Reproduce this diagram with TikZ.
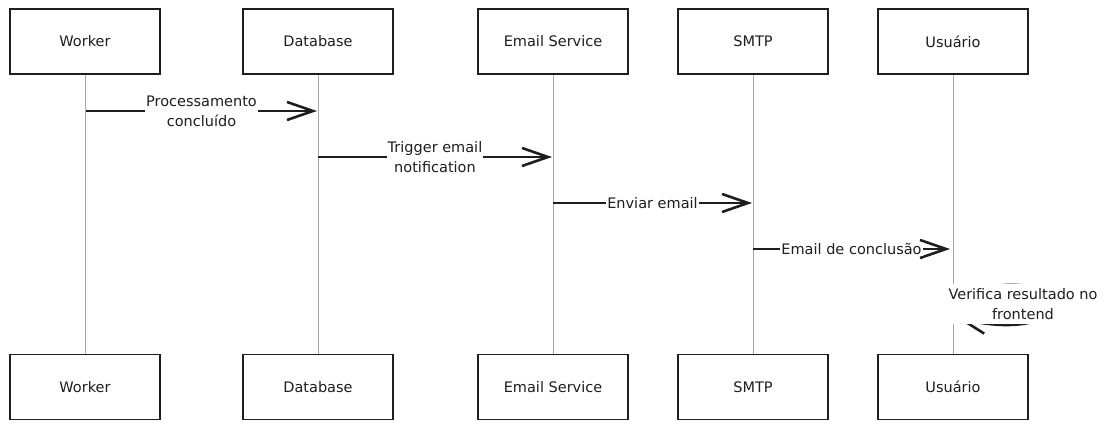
\documentclass[tikz,border=0pt]{standalone}
\usepackage{fontspec}
\setmainfont{DejaVu Sans}
\usetikzlibrary{arrows.meta}
\definecolor{ink}{HTML}{1E1E1E}
\definecolor{lifegray}{HTML}{A6A6A6}

\begin{document}
\begin{tikzpicture}[x=1pt, y=-1pt,
    actor/.style={draw=ink, line width=1.6pt, fill=white, minimum width=150pt, minimum height=65pt,
        inner sep=0pt, text=ink, font=\fontsize{14.5}{20}\selectfont},
    life/.style={draw=lifegray, line width=1pt},
    msg/.style={draw=ink, line width=2.8pt, -{Straight Barb[length=26pt, width=18pt, line width=2.6pt]}},
    lbl/.style={fill=white, inner sep=1pt, align=center, text=ink, font=\fontsize{14.5}{20}\selectfont}]
    \useasboundingbox (0,0) rectangle (1113,430);

    \node[actor] (worker)   at (85,41.5)  {Worker};
    \node[actor] (database) at (318,41.5) {Database};
    \node[actor] (email)    at (553,41.5) {Email Service};
    \node[actor] (smtp)     at (753,41.5) {SMTP};
    \node[actor] (user)     at (953,41.5) {Usuário};

    \node[actor] (worker2)   at (85,387)  {Worker};
    \node[actor] (database2) at (318,387) {Database};
    \node[actor] (email2)    at (553,387) {Email Service};
    \node[actor] (smtp2)     at (753,387) {SMTP};
    \node[actor] (user2)     at (953,387) {Usuário};

    \draw[life] (worker.south) -- (worker2.north);
    \draw[life] (database.south) -- (database2.north);
    \draw[life] (email.south) -- (email2.north);
    \draw[life] (smtp.south) -- (smtp2.north);
    \draw[life] (user.south) -- (user2.north);

    \coordinate (r1) at (0,111);
    \coordinate (r2) at (0,157);
    \coordinate (r3) at (0,203);
    \coordinate (r4) at (0,249);
    \coordinate (r5) at (0,300);
    \coordinate (r6) at (0,318);

    \draw[msg] ([xshift=1pt]worker |- r1) -- node[lbl] {Processamento\\concluído} ([xshift=-1pt]database |- r1);
    \draw[msg] (database |- r2) -- node[lbl] {Trigger email\\notification} ([xshift=-1pt]email |- r2);
    \draw[msg] (email |- r3) -- node[lbl] {Enviar email} ([xshift=-1pt]smtp |- r3);
    \draw[msg] (smtp |- r4) -- node[lbl] {Email de conclusão} ([xshift=-3pt]user |- r4);

    \draw[msg] (user |- r5) .. controls +(32,-20) and +(-25,-20) .. ++(112,0)
        .. controls +(-20,30) and +(43,10) .. ([xshift=4pt]user |- r6);
    \node[lbl, minimum height=40pt, inner sep=0pt, inner xsep=2pt] (check) at (1023,304) {Verifica resultado no\\frontend};
\end{tikzpicture}
\end{document}
